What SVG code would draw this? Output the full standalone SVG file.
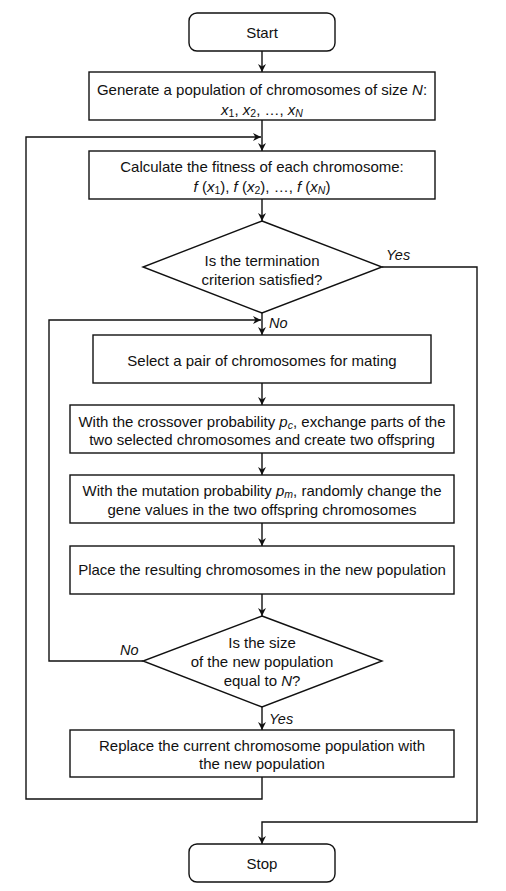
<svg xmlns="http://www.w3.org/2000/svg" width="506" height="891" viewBox="0 0 506 891">
<style>
.box{fill:#fff;stroke:#111;stroke-width:1.4}
.ln{fill:none;stroke:#111;stroke-width:1.4}
text{font-family:"Liberation Sans",Arial,sans-serif;font-size:15px;fill:#111;text-anchor:middle}
.i{font-style:italic}
.lbl{font-style:italic;text-anchor:start;font-size:14.5px}
.sub{font-size:10.5px}
</style>
<defs>
<marker id="ah" viewBox="0 0 10 10" refX="10" refY="5" markerWidth="8" markerHeight="8" markerUnits="userSpaceOnUse" orient="auto">
<path d="M0,0 L10,5 L0,10 L3,5 Z" fill="#111"/>
</marker>
</defs>
<rect width="506" height="891" fill="#fff"/>
<g id="connectors">
<path class="ln" d="M262,51 V72" marker-end="url(#ah)"/>
<path class="ln" d="M262,120 V151" marker-end="url(#ah)"/>
<path class="ln" d="M262,777 V799 H26 V137 H261" marker-end="url(#ah)"/>
<path class="ln" d="M262,199 V221" marker-end="url(#ah)"/>
<path class="ln" d="M262,313 V335" marker-end="url(#ah)"/>
<path class="ln" d="M382,267 H477 V822 H262 V844" marker-end="url(#ah)"/>
<path class="ln" d="M143,661 H49 V320 H261" marker-end="url(#ah)"/>
<path class="ln" d="M262,383 V405" marker-end="url(#ah)"/>
<path class="ln" d="M262,453 V475" marker-end="url(#ah)"/>
<path class="ln" d="M262,523 V546" marker-end="url(#ah)"/>
<path class="ln" d="M262,594 V616" marker-end="url(#ah)"/>
<path class="ln" d="M262,707 V730" marker-end="url(#ah)"/>
<text class="lbl" x="386" y="260">Yes</text>
<text class="lbl" x="269" y="328">No</text>
<text class="lbl" x="120" y="655">No</text>
<text class="lbl" x="269" y="724">Yes</text>
</g>
<g id="start">
<rect class="box" x="189" y="13" width="146" height="38" rx="8"/>
<text x="262" y="37.5">Start</text>
</g>
<g id="generate">
<rect class="box" x="89" y="72" width="346" height="48"/>
<text x="262" y="94.5">Generate a population of chromosomes of size <tspan class="i">N</tspan>:</text>
<text x="262" y="115"><tspan class="i">x</tspan><tspan class="sub" dy="2">1</tspan><tspan dy="-2">, </tspan><tspan class="i">x</tspan><tspan class="sub" dy="2">2</tspan><tspan dy="-2">, …, </tspan><tspan class="i">x</tspan><tspan class="sub i" dy="2">N</tspan></text>
</g>
<g id="fitness">
<rect class="box" x="89" y="151" width="346" height="48"/>
<text x="262" y="172">Calculate the fitness of each chromosome:</text>
<text x="262" y="191.5"><tspan class="i">f</tspan> (<tspan class="i">x</tspan><tspan class="sub" dy="2">1</tspan><tspan dy="-2">), </tspan><tspan class="i">f</tspan> (<tspan class="i">x</tspan><tspan class="sub" dy="2">2</tspan><tspan dy="-2">), …, </tspan><tspan class="i">f</tspan> (<tspan class="i">x</tspan><tspan class="sub i" dy="2">N</tspan><tspan dy="-2">)</tspan></text>
</g>
<g id="termination">
<polygon class="box" points="262,221 382,267 262,313 143,267"/>
<text x="262" y="265.5">Is the termination</text>
<text x="262" y="284.5">criterion satisfied?</text>
</g>
<g id="select">
<rect class="box" x="93" y="335" width="338" height="48"/>
<text x="262" y="365.5">Select a pair of chromosomes for mating</text>
</g>
<g id="crossover">
<rect class="box" x="70" y="405" width="384" height="48"/>
<text x="262" y="426.5">With the crossover probability <tspan class="i">p</tspan><tspan class="sub i" dy="2">c</tspan><tspan dy="-2">, exchange parts of the</tspan></text>
<text x="262" y="444.5">two selected chromosomes and create two offspring</text>
</g>
<g id="mutation">
<rect class="box" x="70" y="475" width="384" height="48"/>
<text x="262" y="496">With the mutation probability <tspan class="i">p</tspan><tspan class="sub i" dy="2">m</tspan><tspan dy="-2">, randomly change the</tspan></text>
<text x="262" y="514.5">gene values in the two offspring chromosomes</text>
</g>
<g id="place">
<rect class="box" x="70" y="546" width="384" height="48"/>
<text x="262" y="575">Place the resulting chromosomes in the new population</text>
</g>
<g id="size-check">
<polygon class="box" points="262,616 382,661 262,707 143,661"/>
<text x="262" y="648">Is the size</text>
<text x="262" y="666.5">of the new population</text>
<text x="262" y="685.5">equal to <tspan class="i">N</tspan>?</text>
</g>
<g id="replace">
<rect class="box" x="70" y="730" width="384" height="47"/>
<text x="262" y="750.5">Replace the current chromosome population with</text>
<text x="262" y="768.5">the new population</text>
</g>
<g id="stop">
<rect class="box" x="189" y="844" width="146" height="38" rx="8"/>
<text x="262" y="868.5">Stop</text>
</g>
</svg>
